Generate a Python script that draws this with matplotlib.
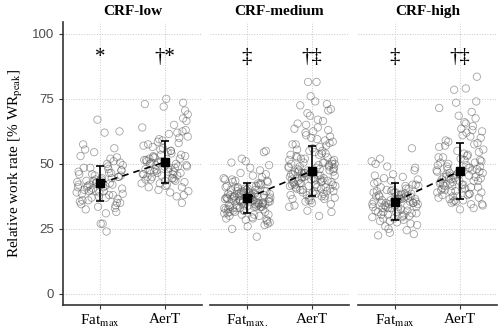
import matplotlib
matplotlib.use("Agg")
import matplotlib.pyplot as plt

# Groups / labels
PANELS = ["CRF-low", "CRF-medium", "CRF-high"]
XLABELS = [["Fat$_{\\mathrm{max}}$", "AerT"],
           ["Fat$_{\\mathrm{max.}}$", "AerT"],
           ["Fat$_{\\mathrm{max}}$", "AerT"]]
SYM_FAT = ["*", "\u2021", "\u2021"]
SYM_AER = ["\u2020*", "\u2020\u2021", "\u2020\u2021"]

# Mean and SD per panel
MEAN_FAT = [42.5, 36.8, 35.5]
SD_FAT = [6.6, 5.8, 7.1]
MEAN_AER = [50.7, 47.3, 47.3]
SD_AER = [8.2, 9.6, 10.8]

FATMAX_LOW = [
    43.5, 38.0, 47.0, 41.0, 36.5, 45.5, 50.5, 39.5, 44.0, 34.5,
    42.0, 67.0, 40.5, 48.5, 37.0, 46.0, 33.0, 43.0, 52.0, 39.0,
    45.0, 41.5, 62.0, 35.5, 49.0, 42.5, 38.5, 55.5, 44.5, 31.5,
    40.0, 47.5, 36.0, 24.0, 43.5, 51.0, 41.0, 46.5, 37.5, 62.5,
    42.0, 39.5, 53.0, 35.0, 44.0, 48.0, 32.5, 45.5, 40.5, 27.0,
    57.5, 38.0, 43.0, 49.5, 36.0, 41.5, 46.0, 34.0, 54.5, 42.5,
    39.0, 27.0, 45.0, 37.0, 50.0, 40.0, 44.5, 33.5, 47.5, 41.0,
    56.0, 38.5, 43.5, 35.0, 48.5, 31.0, 42.0, 52.5, 39.5, 46.5,
]
AERT_LOW = [
    50.5, 44.0, 57.0, 48.0, 62.5, 42.5, 53.0, 47.0, 75.0, 51.5,
    45.5, 59.0, 49.0, 41.0, 55.0, 46.5, 52.0, 64.0, 43.5, 50.0,
    38.0, 56.5, 48.5, 73.0, 44.5, 51.0, 60.5, 47.5, 42.0, 53.5,
    49.5, 66.5, 45.0, 54.0, 40.0, 58.0, 46.0, 50.0, 72.0, 43.0,
    52.5, 61.5, 48.0, 35.0, 55.5, 47.0, 44.0, 63.0, 50.5, 41.5,
    57.5, 49.0, 45.5, 69.0, 53.0, 39.0, 51.5, 46.5, 59.5, 48.5,
    42.5, 54.5, 67.5, 47.5, 44.5, 52.0, 37.5, 56.0, 49.5, 45.0,
    60.0, 51.0, 43.5, 70.5, 48.0, 55.0, 46.0, 41.0, 53.5, 65.0,
    50.0, 39.5, 58.5, 47.0, 44.0, 62.0, 49.0, 73.5, 52.5, 46.0,
]
FATMAX_MED = [
    37.0, 33.5, 41.0, 35.5, 39.5, 30.5, 43.5, 36.0, 34.0, 38.5,
    42.0, 32.0, 36.5, 40.0, 29.0, 37.5, 45.0, 33.0, 35.0, 39.0,
    55.0, 31.5, 38.0, 41.5, 34.5, 36.0, 27.5, 44.0, 37.0, 32.5,
    40.5, 35.5, 30.0, 38.5, 46.5, 33.5, 36.5, 42.5, 28.5, 39.5,
    34.0, 37.5, 31.0, 54.5, 35.0, 40.0, 33.0, 43.0, 36.0, 26.0,
    38.0, 47.5, 32.0, 35.5, 41.0, 29.5, 37.0, 34.5, 39.0, 22.0,
    44.5, 36.5, 31.5, 38.5, 33.5, 50.5, 35.0, 40.5, 30.5, 37.5,
    42.0, 34.0, 36.0, 28.0, 39.5, 45.5, 32.5, 38.0, 35.5, 41.5,
    25.0, 37.0, 33.0, 48.5, 36.5, 30.0, 40.0, 34.5, 43.5, 38.5,
    31.0, 35.0, 52.0, 37.5, 33.5, 39.0, 27.0, 41.0, 36.0, 32.0,
    46.0, 34.0, 38.0, 29.0, 42.5, 35.5, 37.0, 31.5, 49.5, 33.0,
    40.5, 36.5, 26.5, 39.5, 34.5, 44.0, 30.5, 37.5, 35.0, 51.0,
    38.5, 32.5, 41.5, 36.0, 28.5, 43.0, 34.0, 39.0, 33.5, 37.0,
]
AERT_MED = [
    47.0, 40.5, 53.5, 44.0, 58.0, 38.0, 50.0, 42.5, 62.5, 46.0,
    36.5, 55.0, 48.5, 41.0, 67.0, 45.0, 39.5, 51.5, 43.5, 60.0,
    34.5, 49.0, 81.5, 42.0, 56.5, 47.5, 37.0, 52.5, 44.5, 70.5,
    40.0, 48.0, 63.5, 45.5, 35.5, 54.0, 41.5, 50.5, 76.0, 43.0,
    46.5, 38.5, 57.5, 49.5, 32.0, 44.0, 65.5, 42.0, 52.0, 39.0,
    47.0, 59.0, 36.0, 45.5, 72.5, 41.0, 50.0, 43.5, 61.0, 37.5,
    48.5, 54.5, 40.5, 46.0, 30.0, 53.0, 44.5, 68.5, 39.5, 47.5,
    57.0, 42.5, 35.0, 51.0, 45.0, 64.0, 38.0, 49.0, 81.5, 43.0,
    55.5, 41.5, 46.5, 74.0, 36.5, 50.5, 44.0, 60.5, 40.0, 48.0,
    33.5, 52.5, 45.5, 66.5, 42.0, 47.0, 58.5, 39.0, 49.5, 43.5,
    71.0, 37.0, 54.0, 46.0, 41.0, 62.0, 48.5, 34.0, 51.5, 44.5,
    56.0, 40.5, 47.5, 69.5, 38.5, 45.0, 53.5, 42.5, 63.0, 36.0,
    50.0, 43.0, 59.5, 46.5, 31.5, 48.0, 55.0, 41.5, 73.0, 44.0,
    39.5, 52.0, 47.0, 65.0, 37.5, 49.0, 45.5, 57.5, 42.0, 50.5,
]
FATMAX_HIGH = [
    35.0, 30.5, 39.0, 33.5, 42.0, 28.0, 36.5, 44.5, 31.5, 37.5,
    34.0, 40.0, 26.5, 38.0, 32.5, 49.0, 35.5, 29.5, 41.5, 36.0,
    23.0, 33.0, 37.0, 45.5, 30.0, 39.5, 34.5, 52.0, 27.5, 38.5,
    35.0, 31.0, 43.0, 36.5, 25.0, 40.5, 33.5, 37.5, 29.0, 47.5,
    34.0, 38.0, 32.0, 56.0, 36.0, 28.5, 41.0, 35.5, 30.5, 39.0,
    22.5, 37.0, 33.0, 44.0, 31.5, 36.5, 42.5, 27.0, 34.5, 38.5,
    51.0, 32.5, 35.0, 40.0, 29.5, 37.5, 24.5, 46.0, 33.5, 36.0,
    30.0, 39.5, 34.0, 48.5, 26.0, 38.0, 35.5, 31.0, 43.5, 37.0,
    28.0, 41.5, 33.0, 36.5, 50.0, 32.0, 39.0, 35.0, 29.0, 45.0,
    34.5, 37.5, 23.5, 40.5, 31.5, 36.0, 42.0, 33.5, 38.5, 30.5,
]
AERT_HIGH = [
    46.0, 38.5, 52.5, 42.0, 58.0, 36.0, 49.0, 44.5, 63.5, 40.0,
    47.5, 55.0, 34.5, 45.0, 79.0, 41.5, 50.5, 39.0, 60.5, 43.5,
    37.0, 48.0, 66.0, 42.5, 53.5, 35.5, 46.5, 57.0, 40.5, 74.0,
    44.0, 51.0, 38.0, 62.0, 45.5, 33.0, 49.5, 41.0, 68.5, 47.0,
    36.5, 54.0, 43.0, 83.5, 39.5, 48.5, 59.0, 44.5, 37.5, 52.0,
    42.0, 64.5, 46.0, 34.0, 50.0, 40.5, 56.5, 45.0, 78.5, 38.5,
    47.5, 61.0, 43.5, 35.0, 53.0, 41.5, 70.0, 46.5, 39.0, 49.0,
    57.5, 44.0, 32.5, 51.5, 42.5, 65.5, 37.0, 48.0, 73.5, 45.5,
    40.0, 55.5, 43.0, 36.0, 50.5, 63.0, 46.0, 41.0, 58.5, 38.0,
    47.0, 67.5, 44.5, 34.5, 52.5, 42.0, 60.0, 39.5, 49.5, 45.0,
    54.5, 37.5, 48.5, 71.5, 43.5, 35.5, 51.5, 40.5, 62.5, 46.5,
]

# horizontal jitter offsets of the points
JITTER = [
    -0.21, 0.14, -0.33, 0.05, 0.27, -0.08, 0.31, -0.17, 0.02, -0.29,
    0.19, -0.04, 0.34, -0.25, 0.09, -0.12, 0.23, -0.35, 0.16, -0.01,
    0.29, -0.19, 0.07, -0.31, 0.12, -0.06, 0.35, -0.23, 0.03, 0.25,
    -0.14, 0.33, -0.27, 0.10, -0.10, 0.21, -0.34, 0.17, -0.02, 0.30,
    -0.16, 0.06, -0.30, 0.26, -0.07, 0.13, -0.22, 0.32, -0.11, 0.01,
    -0.26, 0.20, -0.05, 0.35, -0.18, 0.08, -0.32, 0.24, -0.09, 0.15,
    -0.36, 0.04, 0.28, -0.13, 0.11, -0.24, 0.18, -0.03, 0.33, -0.20,
    0.22, -0.28, 0.00, 0.31, -0.15, 0.09, -0.33, 0.26, -0.06, 0.14,
    -0.23, 0.36, -0.11, 0.05, -0.30, 0.19, -0.01, 0.28, -0.18, 0.12,
    -0.35, 0.24, -0.08, 0.17, -0.26, 0.03, 0.32, -0.14, 0.10, -0.21,
    0.29, -0.04, 0.15, -0.32, 0.21, -0.10, 0.07, -0.27, 0.34, -0.16,
    0.01, -0.24, 0.27, -0.07, 0.18, -0.34, 0.11, -0.19, 0.25, -0.02,
    0.35, -0.29, 0.08, -0.12, 0.30, -0.22, 0.16, -0.05, 0.23, -0.31,
    0.04, -0.17, 0.33, -0.09, 0.20, -0.36, 0.13, -0.25, 0.06, -0.13,
    0.26, -0.03, 0.31, -0.20, 0.09, -0.28, 0.22, -0.15, 0.02, 0.36,
    -0.10, 0.17, -0.33, 0.12, -0.06, 0.28, -0.23, 0.05, -0.18, 0.34,
    -0.01, 0.24, -0.30, 0.10, -0.12, 0.19, -0.26, 0.31, -0.08, 0.15,
]

FAT_POINTS = [FATMAX_LOW, FATMAX_MED, FATMAX_HIGH]
AER_POINTS = [AERT_LOW, AERT_MED, AERT_HIGH]

plt.rcParams['font.family'] = ['Liberation Serif', 'DejaVu Serif']
plt.rcParams['mathtext.fontset'] = 'stix'

fig = plt.figure(figsize=(5.0, 3.31), dpi=100)
lefts = [0.126, 0.420, 0.716]
width = 0.278
bottom, height = 0.079, 0.855

for i, title in enumerate(PANELS):
    ax = fig.add_axes([lefts[i], bottom, width, height])

    ax.grid(True, color='#c8c8c8', linestyle=':', linewidth=0.7)
    ax.set_axisbelow(True)

    for xpos, pts in [(1, FAT_POINTS[i]), (2, AER_POINTS[i])]:
        xs = [xpos + j for j in JITTER[:len(pts)]]
        ax.scatter(xs, pts, s=28, facecolors='none',
                   edgecolors=(0.35, 0.35, 0.35, 0.55), linewidths=0.6, zorder=2)

    # connecting dashed line and mean +/- SD
    ax.plot([1, 2], [MEAN_FAT[i], MEAN_AER[i]], color='black', linestyle=(0, (4, 3)),
            linewidth=1.2, zorder=3)
    ax.errorbar([1, 2], [MEAN_FAT[i], MEAN_AER[i]], yerr=[SD_FAT[i], SD_AER[i]],
                fmt='s', color='black', markersize=6, capsize=3, elinewidth=1.2,
                capthick=1.2, zorder=4)

    ax.text(1, 89, SYM_FAT[i], ha='center', va='baseline', fontsize=15)
    ax.text(2, 89, SYM_AER[i], ha='center', va='baseline', fontsize=15)

    ax.set_xlim(0.43, 2.57)
    ax.set_ylim(-4.2, 104.6)
    ax.set_xticks([1, 2])
    ax.set_xticklabels(XLABELS[i], fontsize=11)
    ax.set_yticks([0, 25, 50, 75, 100])
    ax.set_title(title, fontsize=11, fontweight='bold', pad=5)

    for s in ['top', 'right']:
        ax.spines[s].set_visible(False)
    ax.spines['bottom'].set_color('#333333')
    ax.spines['bottom'].set_linewidth(1.2)
    ax.tick_params(axis='x', length=3, color='#333333', pad=3)

    if i == 0:
        ax.spines['left'].set_color('#333333')
        ax.spines['left'].set_linewidth(1.2)
        ax.tick_params(axis='y', length=3, color='#333333')
        for lab in ax.get_yticklabels():
            lab.set_fontfamily('Liberation Sans')
            lab.set_fontsize(9.5)
            lab.set_color('#4d4d4d')
        ax.set_ylabel('Relative work rate [% WR$_{\\mathrm{peak}}$]', fontsize=11, labelpad=5)
    else:
        ax.spines['left'].set_visible(False)
        ax.tick_params(axis='y', left=False, labelleft=False)

fig.savefig('out.png', dpi=100)
